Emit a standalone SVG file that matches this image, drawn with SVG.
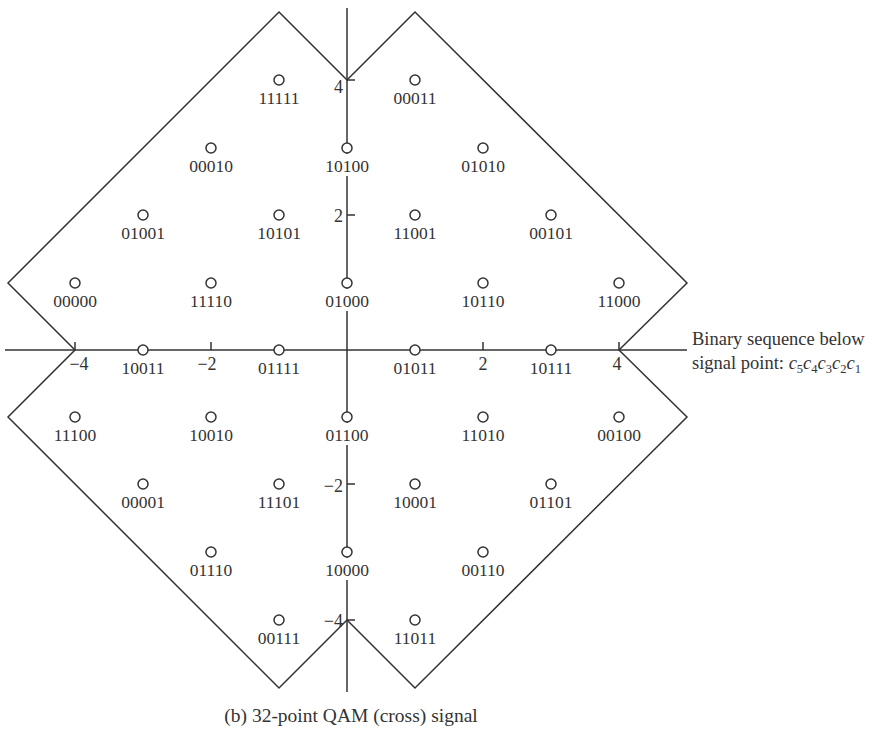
<svg xmlns="http://www.w3.org/2000/svg" width="871" height="731" viewBox="0 0 871 731">
<style>
.ln{stroke:#333;stroke-width:1.5;fill:none}
.pt{stroke:#333;stroke-width:1.5;fill:#fff}
.bg{fill:#fff}
text{font-family:"Liberation Serif","Times New Roman",serif;fill:#333;font-size:17.5px}
.lb{text-anchor:middle}
.yl{text-anchor:end;font-size:18px}
.xl{text-anchor:middle;font-size:18px}
.nt{font-size:18.5px}
</style>
<rect width="871" height="731" fill="#fff"/>
<g id="connectors">
<polygon class="ln" points="75,350 8,283 279,12 347,80 415,12 687,283 619,350 687,417 415,688 347,620 279,688 8,417"/>
<line class="ln" x1="5" y1="350" x2="687" y2="350"/>
<line class="ln" x1="347" y1="8" x2="347" y2="692"/>
<path class="ln" d="M75,342V350M211,342V350M483,342V350M619,342V350M347,80H355M347,215H355M347,484H355M347,620H355"/>
</g>
<g id="axis-labels">
<text class="xl" x="79" y="370">−4</text>
<text class="xl" x="207" y="370">−2</text>
<text class="xl" x="483" y="370">2</text>
<text class="xl" x="617" y="370">4</text>
<text class="yl" x="343" y="93">4</text>
<text class="yl" x="343" y="222">2</text>
<text class="yl" x="343" y="492">−2</text>
<text class="yl" x="343" y="627">−4</text>
</g>
<g id="n11111"><circle class="pt" cx="279" cy="80" r="5"/><text class="lb" x="279" y="104">11111</text></g>
<g id="n00011"><circle class="pt" cx="415" cy="80" r="5"/><text class="lb" x="415" y="104">00011</text></g>
<g id="n00010"><circle class="pt" cx="211" cy="148" r="5"/><text class="lb" x="211" y="172">00010</text></g>
<g id="n10100"><rect class="bg" x="323" y="154" width="48" height="22"/><circle class="pt" cx="347" cy="148" r="5"/><text class="lb" x="347" y="172">10100</text></g>
<g id="n01010"><circle class="pt" cx="483" cy="148" r="5"/><text class="lb" x="483" y="172">01010</text></g>
<g id="n01001"><circle class="pt" cx="143" cy="215" r="5"/><text class="lb" x="143" y="239">01001</text></g>
<g id="n10101"><circle class="pt" cx="279" cy="215" r="5"/><text class="lb" x="279" y="239">10101</text></g>
<g id="n11001"><circle class="pt" cx="415" cy="215" r="5"/><text class="lb" x="415" y="239">11001</text></g>
<g id="n00101"><circle class="pt" cx="551" cy="215" r="5"/><text class="lb" x="551" y="239">00101</text></g>
<g id="n00000"><circle class="pt" cx="75" cy="283" r="5"/><text class="lb" x="75" y="307">00000</text></g>
<g id="n11110"><circle class="pt" cx="211" cy="283" r="5"/><text class="lb" x="211" y="307">11110</text></g>
<g id="n01000"><rect class="bg" x="323" y="289" width="48" height="22"/><circle class="pt" cx="347" cy="283" r="5"/><text class="lb" x="347" y="307">01000</text></g>
<g id="n10110"><circle class="pt" cx="483" cy="283" r="5"/><text class="lb" x="483" y="307">10110</text></g>
<g id="n11000"><circle class="pt" cx="619" cy="283" r="5"/><text class="lb" x="619" y="307">11000</text></g>
<g id="n10011"><circle class="pt" cx="143" cy="350" r="5"/><text class="lb" x="143" y="374">10011</text></g>
<g id="n01111"><circle class="pt" cx="279" cy="350" r="5"/><text class="lb" x="279" y="374">01111</text></g>
<g id="n01011"><circle class="pt" cx="415" cy="350" r="5"/><text class="lb" x="415" y="374">01011</text></g>
<g id="n10111"><circle class="pt" cx="551" cy="350" r="5"/><text class="lb" x="551" y="374">10111</text></g>
<g id="n11100"><circle class="pt" cx="75" cy="417" r="5"/><text class="lb" x="75" y="441">11100</text></g>
<g id="n10010"><circle class="pt" cx="211" cy="417" r="5"/><text class="lb" x="211" y="441">10010</text></g>
<g id="n01100"><rect class="bg" x="323" y="423" width="48" height="22"/><circle class="pt" cx="347" cy="417" r="5"/><text class="lb" x="347" y="441">01100</text></g>
<g id="n11010"><circle class="pt" cx="483" cy="417" r="5"/><text class="lb" x="483" y="441">11010</text></g>
<g id="n00100"><circle class="pt" cx="619" cy="417" r="5"/><text class="lb" x="619" y="441">00100</text></g>
<g id="n00001"><circle class="pt" cx="143" cy="484" r="5"/><text class="lb" x="143" y="508">00001</text></g>
<g id="n11101"><circle class="pt" cx="279" cy="484" r="5"/><text class="lb" x="279" y="508">11101</text></g>
<g id="n10001"><circle class="pt" cx="415" cy="484" r="5"/><text class="lb" x="415" y="508">10001</text></g>
<g id="n01101"><circle class="pt" cx="551" cy="484" r="5"/><text class="lb" x="551" y="508">01101</text></g>
<g id="n01110"><circle class="pt" cx="211" cy="552" r="5"/><text class="lb" x="211" y="576">01110</text></g>
<g id="n10000"><rect class="bg" x="323" y="558" width="48" height="22"/><circle class="pt" cx="347" cy="552" r="5"/><text class="lb" x="347" y="576">10000</text></g>
<g id="n00110"><circle class="pt" cx="483" cy="552" r="5"/><text class="lb" x="483" y="576">00110</text></g>
<g id="n00111"><circle class="pt" cx="279" cy="620" r="5"/><text class="lb" x="279" y="644">00111</text></g>
<g id="n11011"><circle class="pt" cx="415" cy="620" r="5"/><text class="lb" x="415" y="644">11011</text></g>
<g id="note">
<text class="nt" x="692" y="345">Binary sequence below</text>
<text class="nt" x="692" y="369">signal point: <tspan font-style="italic">c</tspan><tspan font-size="12.5" dy="4">5</tspan><tspan font-style="italic" dy="-4">c</tspan><tspan font-size="12.5" dy="4">4</tspan><tspan font-style="italic" dy="-4">c</tspan><tspan font-size="12.5" dy="4">3</tspan><tspan font-style="italic" dy="-4">c</tspan><tspan font-size="12.5" dy="4">2</tspan><tspan font-style="italic" dy="-4">c</tspan><tspan font-size="12.5" dy="4">1</tspan></text>
</g>
<text class="lb" x="351" y="722" style="font-size:19.5px">(b) 32-point QAM (cross) signal</text>
</svg>
